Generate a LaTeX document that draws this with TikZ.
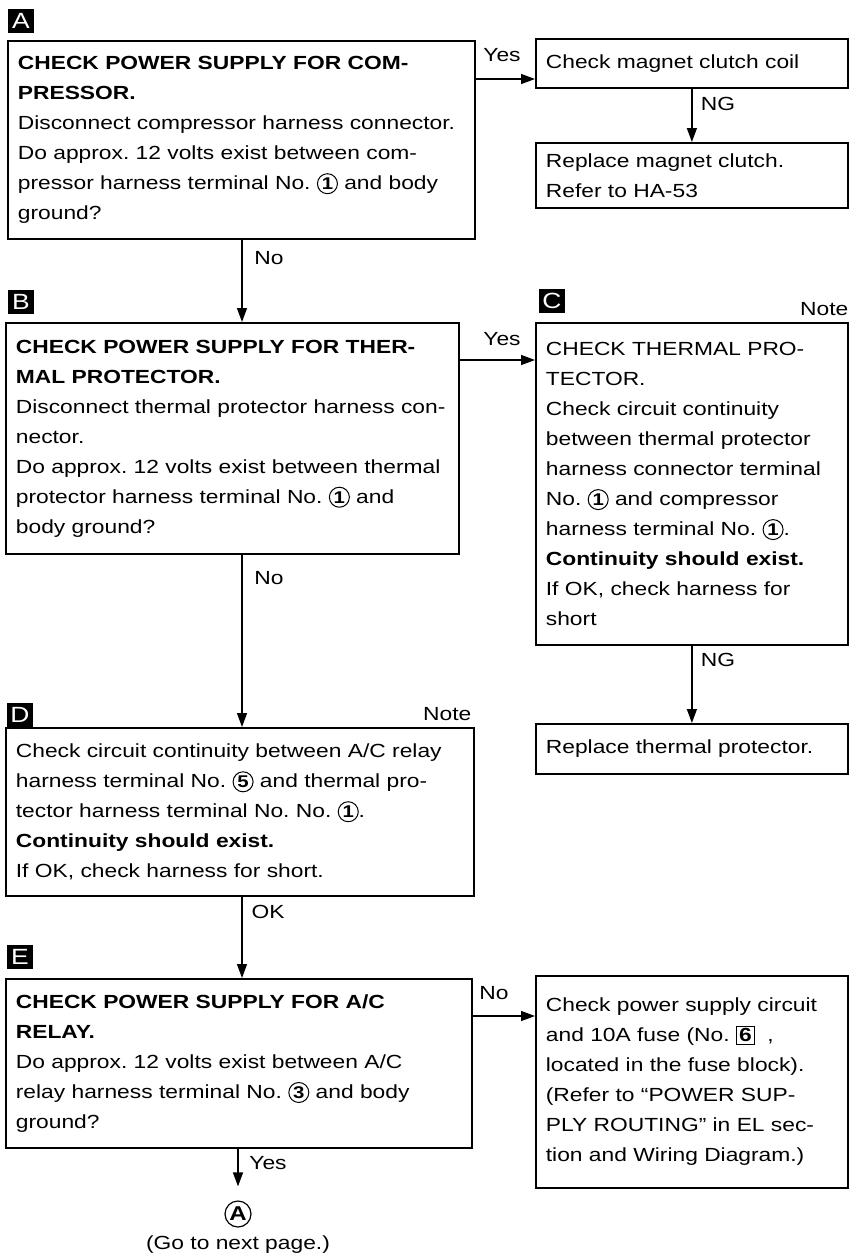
\documentclass[tikz,border=0pt]{standalone}
\usepackage{fontspec}
\setmainfont[FakeStretch=1.2]{Liberation Sans}
\usetikzlibrary{positioning,arrows.meta,calc}
\frenchspacing
% circled terminal number and boxed fuse number
\newcommand\cnum[1]{\tikz[baseline=(cn.base)]\node[draw,circle,anchor=center,line width=0.5pt,inner sep=0pt,minimum size=10pt,font=\bfseries\fontsize{8.5}{8.5}\selectfont](cn){#1};}
\newcommand\fnum[1]{{\setlength\fboxsep{1pt}\setlength\fboxrule{0.5pt}\fbox{\textbf{#1}}}}
\tikzset{
  box/.style n args={3}{draw, line width=0.9pt, anchor=north west, align=left,
    inner xsep=5pt, inner ysep=2pt, minimum width=#1, minimum height=#2, text width=#3},
  tag/.style={fill=black, text=white, font=\fontsize{11}{11}\selectfont,
    minimum width=13pt, minimum height=12pt, inner sep=0pt},
  arr/.style={line width=0.7pt, -{Triangle[length=7pt,width=5pt]}},
  lbl/.style={inner sep=0pt}
}
\begin{document}
\begin{tikzpicture}[x=0.5pt, y=-0.5pt, font=\fontsize{9.5}{15}\selectfont]
\useasboundingbox (0,0) rectangle (859,1260);
\coordinate (col) at (242,0);
% step A
\node[tag] (tagA) at (21,21) {A};
\node[box={233.5pt}{99pt}{223.5pt}] (boxA) at (7,40) {%
\textbf{CHECK POWER SUPPLY FOR COM-}\\
\textbf{PRESSOR.}\\
Disconnect compressor harness connector.\\
Do approx. 12 volts exist between com-\\
pressor harness terminal No. \cnum{1} and body\\
ground?};
\node[box={156pt}{24.5pt}{146pt}] (coil) at (535,38) {Check magnet clutch coil};
\node[box={156pt}{32.5pt}{146pt}] (clutch) at (535,142) {Replace magnet clutch.\\Refer to HA-53};
\draw[arr] (boxA.east |- 0,79) -- (coil.west |- 0,79);
\draw[arr] (coil.south) -- (clutch.north);
\node[lbl] at (502,55) {Yes};
\node[lbl] at (718,104) {NG};
% step B
\node[tag] (tagB) at (21,302) {B};
\node[box={226.5pt}{115.5pt}{216.5pt}] (boxB) at (5,322) {%
\textbf{CHECK POWER SUPPLY FOR THER-}\\
\textbf{MAL PROTECTOR.}\\
Disconnect thermal protector harness con-\\
nector.\\
Do approx. 12 volts exist between thermal\\
protector harness terminal No. \cnum{1} and\\
body ground?};
\draw[arr] (boxA.south -| col) -- (boxB.north -| col);
\node[lbl] at (269,258) {No};
% step C
\node[tag] (tagC) at (552,301) {C};
\node[box={156pt}{161pt}{146pt}] (boxC) at (535,322) {%
CHECK THERMAL PRO-\\
TECTOR.\\
Check circuit continuity\\
between thermal protector\\
harness connector terminal\\
No. \cnum{1} and compressor\\
harness terminal No. \cnum{1}.\\
\textbf{Continuity should exist.}\\
If OK, check harness for\\
short};
\node[anchor=base east, inner sep=0pt] (noteC) at ([yshift=3.5pt]boxC.north east) {Note};
\node[box={156pt}{25pt}{146pt}] (prot) at (535,723) {Replace thermal protector.};
\draw[arr] (boxB.east |- 0,360) -- (boxC.west |- 0,360);
\draw[arr] (boxC.south) -- (prot.north);
\node[lbl] at (502,339) {Yes};
\node[lbl] at (718,660) {NG};
% step D
\node[tag] (tagD) at (20,715) {D};
\node[box={234pt}{84pt}{224pt}] (boxD) at (5,727) {%
Check circuit continuity between A/C relay\\
harness terminal No. \cnum{5} and thermal pro-\\
tector harness terminal No. No. \cnum{1}.\\
\textbf{Continuity should exist.}\\
If OK, check harness for short.};
\node[anchor=base east, inner sep=0pt] (noteD) at ([xshift=-1.5pt,yshift=3.5pt]boxD.north east) {Note};
\draw[arr] (boxB.south -| col) -- (boxD.north -| col);
\node[lbl] at (269,578) {No};
% step E
\node[tag] (tagE) at (20,957) {E};
\node[box={233pt}{84.5pt}{223pt}] (boxE) at (5,978) {%
\textbf{CHECK POWER SUPPLY FOR A/C}\\
\textbf{RELAY.}\\
Do approx. 12 volts exist between A/C\\
relay harness terminal No. \cnum{3} and body\\
ground?};
\node[box={156pt}{106pt}{146pt}] (fuse) at (535,975) {%
Check power supply circuit\\
and 10A fuse (No. \fnum{6}\ \ ,\\
located in the fuse block).\\
(Refer to “POWER SUP-\\
PLY ROUTING” in EL sec-\\
tion and Wiring Diagram.)};
\draw[arr] (boxD.south -| col) -- (boxE.north -| col);
\node[lbl] at (268,912) {OK};
\draw[arr] (boxE.east |- 0,1016) -- (fuse.west |- 0,1016);
\node[lbl] at (494,993) {No};
% go to next page
\node[draw, circle, line width=0.6pt, inner sep=0pt, minimum size=13pt, font=\bfseries] (goA) at (238,1214) {A};
\node[anchor=north, inner sep=0pt] (goTxt) at ([yshift=-4pt]goA.south) {(Go to next page.)};
\draw[arr, shorten >=7pt] (boxE.south -| goA) -- (goA.north);
\node[lbl] at (268,1163) {Yes};
\end{tikzpicture}
\end{document}
